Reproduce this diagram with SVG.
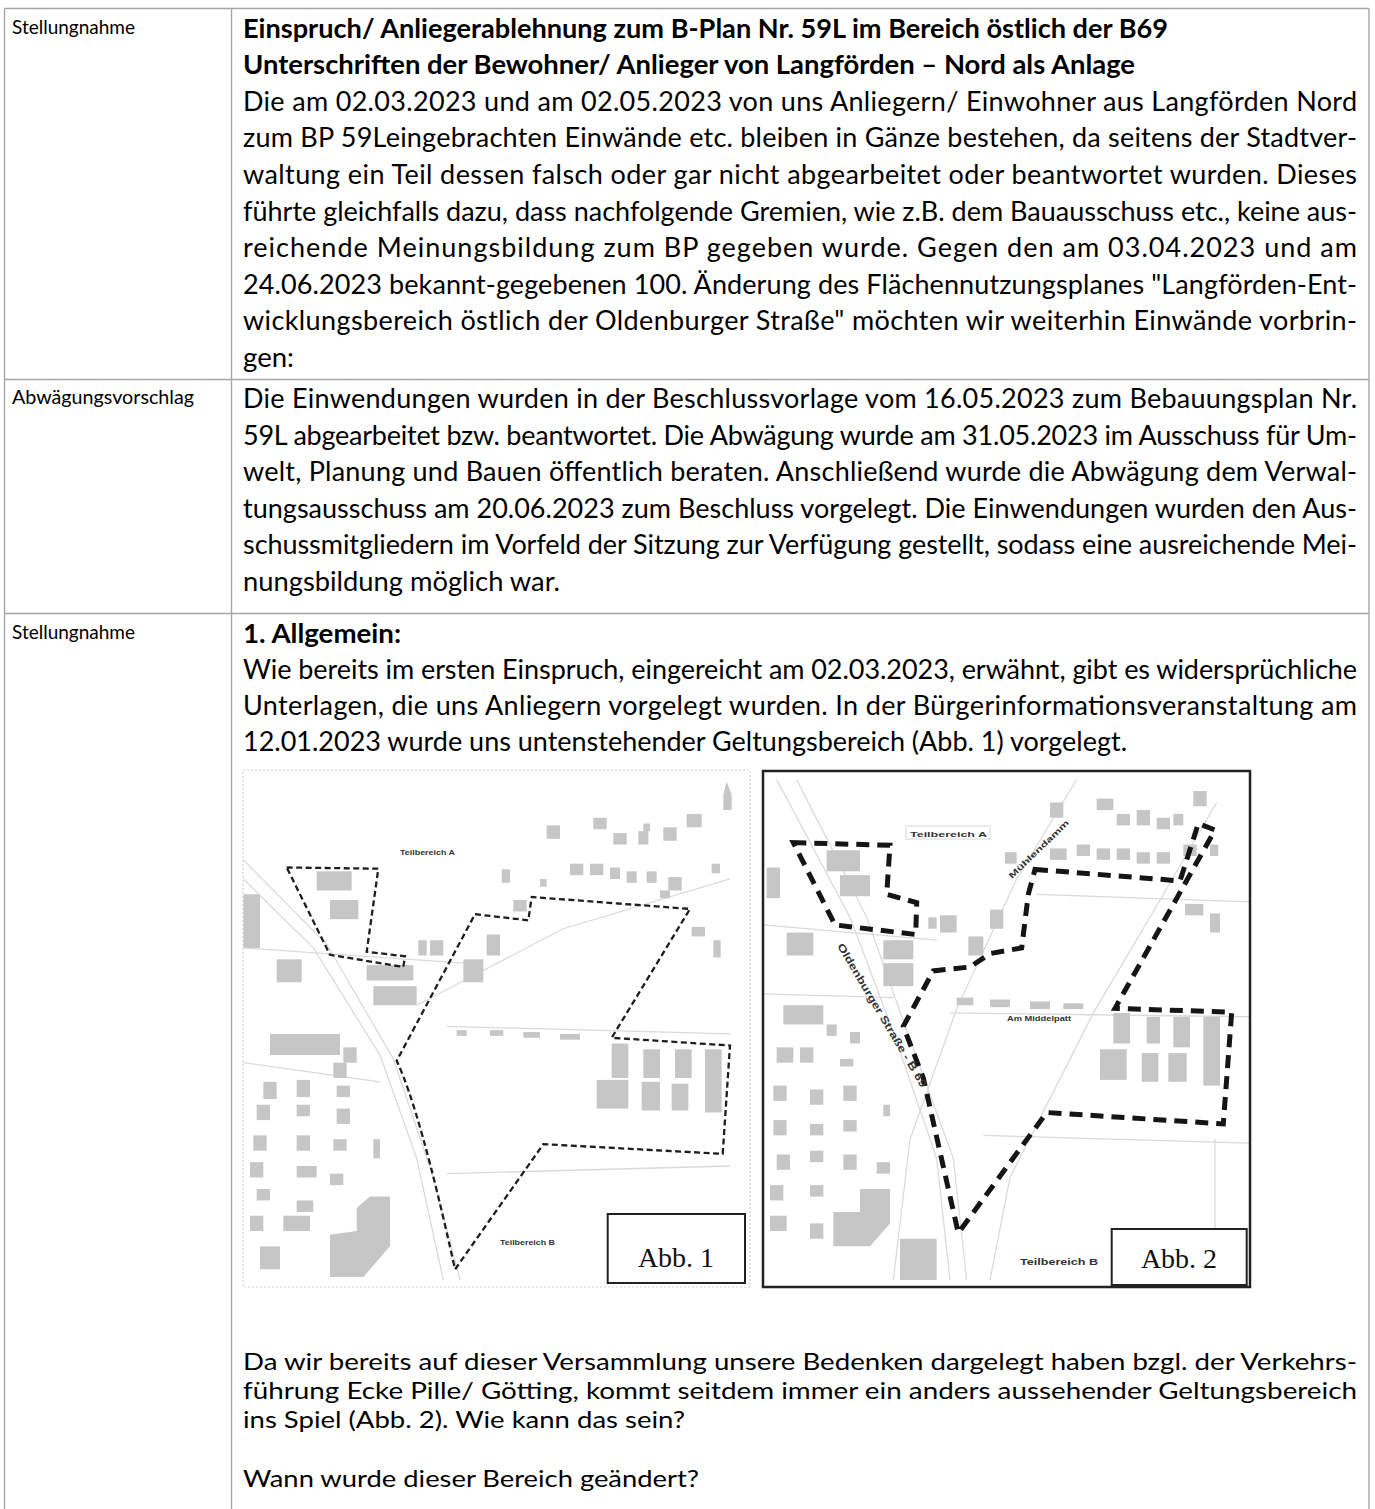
<svg xmlns="http://www.w3.org/2000/svg" width="1375" height="1509" viewBox="0 0 1375 1509">
<style>
.t{font-family:Lato,"Noto Sans","DejaVu Sans",sans-serif;font-size:27px;fill:#000}
.s{font-family:Lato,"Noto Sans","DejaVu Sans",sans-serif;font-size:24px;fill:#000}
.b{font-weight:bold}
.lab{font-family:Lato,"Noto Sans","DejaVu Sans",sans-serif;font-size:20px;fill:#000}
.grid{stroke:#a6a6a6;stroke-width:1.4;fill:none}
.bld{fill:#c6c6c6}
.road{fill:none;stroke:#dadada;stroke-width:1.3}
.d1{fill:none;stroke:#1e1e1e;stroke-width:2.3;stroke-dasharray:6 3.5}
.d2{fill:none;stroke:#151515;stroke-width:5;stroke-dasharray:13 8}
.ml{font-family:"Liberation Sans",Arial,sans-serif;font-weight:bold;fill:#333}
.abb{font-family:"Liberation Serif","Times New Roman",serif;font-size:28px;fill:#111}
</style>
<rect x="0" y="0" width="1375" height="1509" fill="#fff"/>
<g id="table">
<line class="grid" x1="4.5" y1="8.5" x2="1369" y2="8.5"/>
<line class="grid" x1="4.5" y1="8.5" x2="4.5" y2="1509"/>
<line class="grid" x1="231.5" y1="8.5" x2="231.5" y2="1509"/>
<line class="grid" x1="1369" y1="8.5" x2="1369" y2="1509"/>
<line class="grid" x1="4.5" y1="379.5" x2="1369" y2="379.5"/>
<line class="grid" x1="4.5" y1="613.5" x2="1369" y2="613.5"/>
</g>
<g id="labels">
<text class="lab" x="12" y="34" textLength="123" lengthAdjust="spacingAndGlyphs">Stellungnahme</text>
<text class="lab" x="12" y="404" textLength="182" lengthAdjust="spacingAndGlyphs">Abwägungsvorschlag</text>
<text class="lab" x="12" y="639" textLength="123" lengthAdjust="spacingAndGlyphs">Stellungnahme</text>
</g>
<g id="row1">
<text class="t b" x="243" y="37.6" textLength="925" lengthAdjust="spacingAndGlyphs">Einspruch/ Anliegerablehnung zum B-Plan Nr. 59L im Bereich östlich der B69</text>
<text class="t b" x="243" y="74.2" textLength="892" lengthAdjust="spacingAndGlyphs">Unterschriften der Bewohner/ Anlieger von Langförden – Nord als Anlage</text>
<text class="t" x="243" y="110.8" textLength="1114" lengthAdjust="spacing">Die am 02.03.2023 und am 02.05.2023 von uns Anliegern/ Einwohner aus Langförden Nord</text>
<text class="t" x="243" y="147.4" textLength="1114" lengthAdjust="spacing">zum BP 59Leingebrachten Einwände etc. bleiben in Gänze bestehen, da seitens der Stadtver-</text>
<text class="t" x="243" y="184" textLength="1114" lengthAdjust="spacing">waltung ein Teil dessen falsch oder gar nicht abgearbeitet oder beantwortet wurden. Dieses</text>
<text class="t" x="243" y="220.6" textLength="1114" lengthAdjust="spacing">führte gleichfalls dazu, dass nachfolgende Gremien, wie z.B. dem Bauausschuss etc., keine aus-</text>
<text class="t" x="243" y="257.2" textLength="1114" lengthAdjust="spacing">reichende Meinungsbildung zum BP gegeben wurde. Gegen den am 03.04.2023 und am</text>
<text class="t" x="243" y="293.8" textLength="1114" lengthAdjust="spacing">24.06.2023 bekannt-gegebenen 100. Änderung des Flächennutzungsplanes "Langförden-Ent-</text>
<text class="t" x="243" y="330.4" textLength="1114" lengthAdjust="spacing">wicklungsbereich östlich der Oldenburger Straße" möchten wir weiterhin Einwände vorbrin-</text>
<text class="t" x="243" y="367" textLength="51" lengthAdjust="spacingAndGlyphs">gen:</text>
</g>
<g id="row2">
<text class="t" x="243" y="408" textLength="1114" lengthAdjust="spacing">Die Einwendungen wurden in der Beschlussvorlage vom 16.05.2023 zum Bebauungsplan Nr.</text>
<text class="t" x="243" y="444.6" textLength="1114" lengthAdjust="spacing">59L abgearbeitet bzw. beantwortet. Die Abwägung wurde am 31.05.2023 im Ausschuss für Um-</text>
<text class="t" x="243" y="481.2" textLength="1114" lengthAdjust="spacing">welt, Planung und Bauen öffentlich beraten. Anschließend wurde die Abwägung dem Verwal-</text>
<text class="t" x="243" y="517.8" textLength="1114" lengthAdjust="spacing">tungsausschuss am 20.06.2023 zum Beschluss vorgelegt. Die Einwendungen wurden den Aus-</text>
<text class="t" x="243" y="554.4" textLength="1114" lengthAdjust="spacing">schussmitgliedern im Vorfeld der Sitzung zur Verfügung gestellt, sodass eine ausreichende Mei-</text>
<text class="t" x="243" y="591" textLength="317" lengthAdjust="spacingAndGlyphs">nungsbildung möglich war.</text>
</g>
<g id="row3">
<text class="t b" x="243" y="643" textLength="158" lengthAdjust="spacingAndGlyphs">1. Allgemein:</text>
<text class="t" x="243" y="679" textLength="1114" lengthAdjust="spacing">Wie bereits im ersten Einspruch, eingereicht am 02.03.2023, erwähnt, gibt es widersprüchliche</text>
<text class="t" x="243" y="715" textLength="1114" lengthAdjust="spacing">Unterlagen, die uns Anliegern vorgelegt wurden. In der Bürgerinformationsveranstaltung am</text>
<text class="t" x="243" y="751" textLength="884" lengthAdjust="spacingAndGlyphs">12.01.2023 wurde uns untenstehender Geltungsbereich (Abb. 1) vorgelegt.</text>
<text class="s" x="243" y="1370" textLength="1114" lengthAdjust="spacingAndGlyphs">Da wir bereits auf dieser Versammlung unsere Bedenken dargelegt haben bzgl. der Verkehrs-</text>
<text class="s" x="243" y="1399" textLength="1114" lengthAdjust="spacingAndGlyphs">führung Ecke Pille/ Götting, kommt seitdem immer ein anders aussehender Geltungsbereich</text>
<text class="s" x="243" y="1428" textLength="442" lengthAdjust="spacingAndGlyphs">ins Spiel (Abb. 2). Wie kann das sein?</text>
<text class="s" x="243" y="1487" textLength="456" lengthAdjust="spacingAndGlyphs">Wann wurde dieser Bereich geändert?</text>
</g>
<g id="map1">
<rect x="243" y="770" width="507" height="517" fill="#fff" stroke="#d2d2d2" stroke-width="1.2" stroke-dasharray="2 2"/>
<g transform="translate(230,680) scale(0.33333,0.38267)">
<polyline class="road" vector-effect="non-scaling-stroke" points="40,520 250,700 450,980 560,1250 640,1568"/>
<polyline class="road" vector-effect="non-scaling-stroke" points="40,470 290,690 490,990 610,1300 690,1568"/>
<polyline class="road" vector-effect="non-scaling-stroke" points="40,700 700,740"/>
<polyline class="road" vector-effect="non-scaling-stroke" points="650,905 1500,925"/>
<polyline class="road" vector-effect="non-scaling-stroke" points="560,850 1000,650 1500,520"/>
<polyline class="road" vector-effect="non-scaling-stroke" points="40,1000 450,1050"/>
<polyline class="road" vector-effect="non-scaling-stroke" points="650,1290 1500,1270"/>
<rect class="bld" x="950" y="380" width="40" height="35"/>
<rect class="bld" x="1090" y="360" width="40" height="30"/>
<rect class="bld" x="1150" y="400" width="40" height="30"/>
<rect class="bld" x="1225" y="395" width="30" height="35"/>
<rect class="bld" x="1300" y="385" width="40" height="35"/>
<rect class="bld" x="1370" y="350" width="45" height="35"/>
<rect class="bld" x="1240" y="375" width="20" height="20"/>
<rect class="bld" x="815" y="495" width="25" height="35"/>
<rect class="bld" x="930" y="520" width="20" height="20"/>
<rect class="bld" x="1020" y="480" width="40" height="30"/>
<rect class="bld" x="1080" y="480" width="40" height="30"/>
<rect class="bld" x="1140" y="490" width="30" height="30"/>
<rect class="bld" x="1190" y="500" width="30" height="30"/>
<rect class="bld" x="1250" y="500" width="30" height="30"/>
<rect class="bld" x="1315" y="515" width="40" height="35"/>
<rect class="bld" x="1290" y="550" width="30" height="20"/>
<rect class="bld" x="850" y="575" width="40" height="30"/>
<rect class="bld" x="1445" y="480" width="25" height="25"/>
<rect class="bld" x="260" y="500" width="105" height="50"/>
<rect class="bld" x="300" y="575" width="85" height="50"/>
<rect class="bld" x="40" y="560" width="50" height="140"/>
<rect class="bld" x="140" y="730" width="75" height="60"/>
<rect class="bld" x="565" y="680" width="25" height="40"/>
<rect class="bld" x="600" y="680" width="40" height="40"/>
<rect class="bld" x="770" y="665" width="40" height="55"/>
<rect class="bld" x="700" y="730" width="60" height="60"/>
<rect class="bld" x="410" y="745" width="140" height="40"/>
<rect class="bld" x="430" y="800" width="130" height="50"/>
<rect class="bld" x="1385" y="645" width="40" height="25"/>
<rect class="bld" x="1450" y="680" width="22" height="45"/>
<rect class="bld" x="680" y="915" width="30" height="15"/>
<rect class="bld" x="780" y="915" width="40" height="15"/>
<rect class="bld" x="880" y="920" width="50" height="15"/>
<rect class="bld" x="990" y="925" width="60" height="15"/>
<rect class="bld" x="120" y="925" width="210" height="55"/>
<rect class="bld" x="340" y="960" width="40" height="40"/>
<rect class="bld" x="310" y="1000" width="40" height="40"/>
<rect class="bld" x="100" y="1050" width="40" height="45"/>
<rect class="bld" x="200" y="1045" width="40" height="45"/>
<rect class="bld" x="320" y="1060" width="40" height="30"/>
<rect class="bld" x="80" y="1110" width="40" height="40"/>
<rect class="bld" x="200" y="1110" width="40" height="30"/>
<rect class="bld" x="320" y="1120" width="40" height="40"/>
<rect class="bld" x="70" y="1190" width="40" height="40"/>
<rect class="bld" x="200" y="1190" width="40" height="40"/>
<rect class="bld" x="310" y="1200" width="40" height="30"/>
<rect class="bld" x="430" y="1200" width="20" height="50"/>
<rect class="bld" x="60" y="1260" width="40" height="40"/>
<rect class="bld" x="200" y="1270" width="60" height="30"/>
<rect class="bld" x="300" y="1290" width="40" height="30"/>
<rect class="bld" x="80" y="1330" width="40" height="30"/>
<rect class="bld" x="200" y="1360" width="50" height="30"/>
<rect class="bld" x="60" y="1400" width="40" height="40"/>
<rect class="bld" x="160" y="1400" width="80" height="40"/>
<rect class="bld" x="90" y="1480" width="60" height="60"/>
<polygon class="bld" points="420,1350 480,1350 480,1480 400,1560 300,1560 300,1450 380,1440 380,1380"/>
<rect class="bld" x="1145" y="950" width="50" height="90"/>
<rect class="bld" x="1240" y="965" width="50" height="75"/>
<rect class="bld" x="1335" y="965" width="50" height="75"/>
<rect class="bld" x="1425" y="965" width="50" height="165"/>
<rect class="bld" x="1100" y="1045" width="95" height="75"/>
<rect class="bld" x="1235" y="1050" width="55" height="75"/>
<rect class="bld" x="1325" y="1055" width="50" height="70"/>
<polygon class="bld" points="1490,265 1505,300 1505,340 1480,340 1480,300"/>
</g>
<polygon class="d1" points="286.7,867.5 378.3,868.7 366.7,951.7 405,956.3 403.3,967 330,954.8"/>
<path class="d1" d="M475,914.2 L528.3,920.3 L531.7,897 L690,908.9 L611.7,1037.8 L730,1045.5 L722.7,1153.8 L543.3,1144.2 L455,1269.4 Q420,1110 396.7,1060.8 Z"/>
<text class="ml" x="400" y="855" font-size="6.5" textLength="55" lengthAdjust="spacingAndGlyphs">Teilbereich A</text>
<text class="ml" x="500" y="1245" font-size="6.5" textLength="55" lengthAdjust="spacingAndGlyphs">Teilbereich B</text>
<rect x="607.7" y="1214" width="137.3" height="69" fill="#fff" stroke="#222" stroke-width="2"/>
<text class="abb" x="676" y="1267" text-anchor="middle">Abb. 1</text>
</g>
<g id="map2">
<rect x="763" y="771" width="487" height="516" fill="#fff"/>
<g transform="translate(750,680) scale(0.33333,0.38267)">
<polyline class="road" vector-effect="non-scaling-stroke" points="80,260 300,620 430,920 560,1250 600,1568"/>
<polyline class="road" vector-effect="non-scaling-stroke" points="140,260 350,620 480,940 610,1250 650,1568"/>
<polyline class="road" vector-effect="non-scaling-stroke" points="980,260 800,520 620,860 480,1200 430,1568"/>
<polyline class="road" vector-effect="non-scaling-stroke" points="1400,320 1200,620 1030,870 780,1300 720,1568"/>
<polyline class="road" vector-effect="non-scaling-stroke" points="860,560 1500,580"/>
<polyline class="road" vector-effect="non-scaling-stroke" points="600,870 1500,880"/>
<polyline class="road" vector-effect="non-scaling-stroke" points="700,1190 1500,1210"/>
<polyline class="road" vector-effect="non-scaling-stroke" points="40,640 560,680"/>
<polyline class="road" vector-effect="non-scaling-stroke" points="40,820 430,830"/>
<polyline class="road" vector-effect="non-scaling-stroke" points="1395,1200 1395,1568"/>
<rect class="bld" x="900" y="320" width="40" height="40"/>
<rect class="bld" x="1040" y="310" width="50" height="30"/>
<rect class="bld" x="1100" y="350" width="40" height="30"/>
<rect class="bld" x="1160" y="340" width="40" height="40"/>
<rect class="bld" x="1220" y="360" width="40" height="30"/>
<rect class="bld" x="1270" y="350" width="30" height="30"/>
<rect class="bld" x="1330" y="290" width="40" height="40"/>
<rect class="bld" x="765" y="450" width="35" height="30"/>
<rect class="bld" x="900" y="440" width="50" height="30"/>
<rect class="bld" x="980" y="430" width="40" height="30"/>
<rect class="bld" x="1040" y="440" width="40" height="30"/>
<rect class="bld" x="1100" y="440" width="40" height="30"/>
<rect class="bld" x="1160" y="450" width="40" height="30"/>
<rect class="bld" x="1220" y="450" width="40" height="30"/>
<rect class="bld" x="1300" y="430" width="40" height="30"/>
<rect class="bld" x="1380" y="430" width="25" height="30"/>
<rect class="bld" x="230" y="445" width="100" height="55"/>
<rect class="bld" x="270" y="510" width="90" height="55"/>
<rect class="bld" x="50" y="490" width="40" height="80"/>
<rect class="bld" x="110" y="660" width="80" height="60"/>
<rect class="bld" x="400" y="680" width="90" height="50"/>
<rect class="bld" x="400" y="740" width="90" height="60"/>
<rect class="bld" x="655" y="670" width="45" height="50"/>
<rect class="bld" x="720" y="600" width="40" height="50"/>
<rect class="bld" x="535" y="620" width="25" height="30"/>
<rect class="bld" x="570" y="615" width="50" height="45"/>
<rect class="bld" x="1305" y="585" width="55" height="30"/>
<rect class="bld" x="1380" y="610" width="30" height="50"/>
<rect class="bld" x="620" y="830" width="50" height="20"/>
<rect class="bld" x="720" y="835" width="60" height="20"/>
<rect class="bld" x="840" y="840" width="60" height="20"/>
<rect class="bld" x="940" y="845" width="60" height="15"/>
<rect class="bld" x="1090" y="870" width="50" height="80"/>
<rect class="bld" x="1190" y="880" width="40" height="70"/>
<rect class="bld" x="1270" y="880" width="50" height="80"/>
<rect class="bld" x="1360" y="880" width="50" height="180"/>
<rect class="bld" x="1050" y="965" width="80" height="80"/>
<rect class="bld" x="1175" y="975" width="50" height="75"/>
<rect class="bld" x="1255" y="975" width="55" height="75"/>
<rect class="bld" x="100" y="850" width="120" height="50"/>
<rect class="bld" x="230" y="900" width="30" height="30"/>
<rect class="bld" x="300" y="920" width="30" height="30"/>
<rect class="bld" x="80" y="960" width="50" height="40"/>
<rect class="bld" x="150" y="960" width="40" height="40"/>
<rect class="bld" x="270" y="990" width="40" height="20"/>
<rect class="bld" x="70" y="1060" width="40" height="40"/>
<rect class="bld" x="180" y="1070" width="40" height="40"/>
<rect class="bld" x="280" y="1060" width="40" height="40"/>
<rect class="bld" x="400" y="1110" width="20" height="30"/>
<rect class="bld" x="70" y="1150" width="40" height="40"/>
<rect class="bld" x="180" y="1160" width="40" height="30"/>
<rect class="bld" x="280" y="1150" width="40" height="30"/>
<rect class="bld" x="80" y="1240" width="40" height="40"/>
<rect class="bld" x="180" y="1230" width="40" height="30"/>
<rect class="bld" x="280" y="1240" width="40" height="40"/>
<rect class="bld" x="380" y="1260" width="40" height="30"/>
<rect class="bld" x="60" y="1320" width="40" height="40"/>
<rect class="bld" x="180" y="1320" width="40" height="30"/>
<rect class="bld" x="60" y="1400" width="50" height="40"/>
<rect class="bld" x="180" y="1420" width="40" height="40"/>
<polygon class="bld" points="330,1330 420,1330 420,1420 360,1480 250,1480 250,1390 330,1390"/>
<rect class="bld" x="450" y="1460" width="110" height="108"/>
</g>
<rect x="763" y="771" width="487" height="516" fill="none" stroke="#222" stroke-width="2.5"/>
<polygon class="d2" points="793.3,842.6 890,845.3 886.7,894.3 916.7,902.7 915.7,934.5 835,924.9"/>
<polygon class="d2" points="1035,869.4 1180,880.9 1198.3,823.5 1215,830 1115,1008.4 1231.7,1012.2 1223.3,1123.9 1046.7,1112.5 958.3,1233 923.3,1078 903.3,1026.3 933.3,970.9 970,967 990,953.6 1021.7,947.9 1028.3,894.3"/>
<rect x="906" y="826" width="84" height="13" fill="#fff" stroke="#ccc" stroke-width="0.8"/>
<text class="ml" x="910" y="836.5" font-size="8" textLength="77" lengthAdjust="spacingAndGlyphs">Teilbereich A</text>
<text class="ml" font-size="8" transform="translate(1012,879) rotate(-44)" textLength="80" lengthAdjust="spacingAndGlyphs">Mühlendamm</text>
<text class="ml" font-size="10.5" transform="translate(837,946) rotate(59.4)" textLength="165" lengthAdjust="spacingAndGlyphs">Oldenburger Straße - B 69</text>
<text class="ml" x="1007" y="1021" font-size="6.5" textLength="64" lengthAdjust="spacingAndGlyphs">Am Middelpatt</text>
<text class="ml" x="1020" y="1265" font-size="8.5" textLength="78" lengthAdjust="spacingAndGlyphs">Teilbereich B</text>
<rect x="1111.7" y="1229" width="135" height="56" fill="#fff" stroke="#222" stroke-width="2"/>
<text class="abb" x="1179" y="1268" text-anchor="middle">Abb. 2</text>
</g>
</svg>
